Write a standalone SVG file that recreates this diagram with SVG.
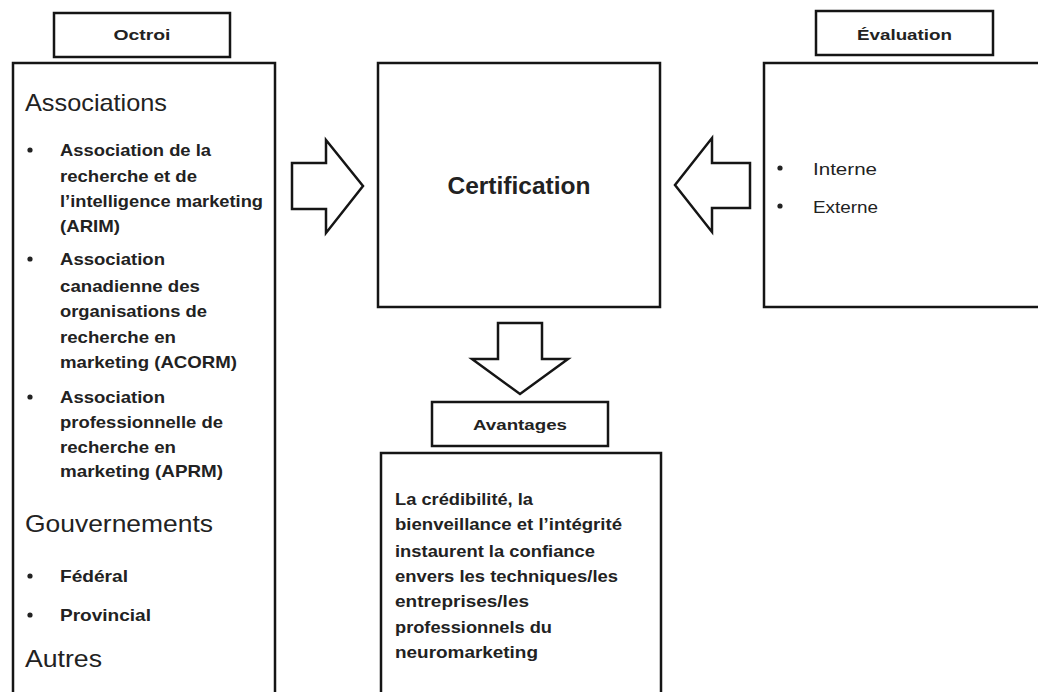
<svg xmlns="http://www.w3.org/2000/svg" width="1038" height="692" viewBox="0 0 1038 692">
  <style>
    .box{fill:#fff;stroke:#151515;stroke-width:2.5}
    .arrow{fill:#fff;stroke:#151515;stroke-width:2.5;stroke-linejoin:miter}
    text{font-family:"Liberation Sans",Arial,sans-serif;fill:#222}
    .lbl{font-size:15px;font-weight:bold;text-anchor:middle}
    .head{font-size:24px}
    .item{font-size:17px;font-weight:bold}
    .sub{font-size:16px}
    .dot{fill:#222}
  </style>
  <rect width="1038" height="692" fill="#fff"/>

  <!-- Octroi -->
  <g id="octroi-label">
    <rect class="box" x="54" y="13" width="176" height="44"/>
    <text class="lbl" x="142" y="40" textLength="57" lengthAdjust="spacingAndGlyphs">Octroi</text>
  </g>
  <g id="octroi">
    <rect class="box" x="13" y="63" width="262" height="660"/>
    <text class="head" x="25" y="111" textLength="142" lengthAdjust="spacingAndGlyphs">Associations</text>
    <circle class="dot" cx="30" cy="150" r="2.6"/>
    <text class="item" x="60" y="156" textLength="151" lengthAdjust="spacingAndGlyphs">Association de la</text>
    <text class="item" x="60" y="182" textLength="137" lengthAdjust="spacingAndGlyphs">recherche et de</text>
    <text class="item" x="60" y="207" textLength="203" lengthAdjust="spacingAndGlyphs">l’intelligence marketing</text>
    <text class="item" x="60" y="232" textLength="60" lengthAdjust="spacingAndGlyphs">(ARIM)</text>
    <circle class="dot" cx="30" cy="259" r="2.6"/>
    <text class="item" x="60" y="265" textLength="105" lengthAdjust="spacingAndGlyphs">Association</text>
    <text class="item" x="60" y="292" textLength="140" lengthAdjust="spacingAndGlyphs">canadienne des</text>
    <text class="item" x="60" y="317" textLength="147" lengthAdjust="spacingAndGlyphs">organisations de</text>
    <text class="item" x="60" y="343" textLength="116" lengthAdjust="spacingAndGlyphs">recherche en</text>
    <text class="item" x="60" y="368" textLength="177" lengthAdjust="spacingAndGlyphs">marketing (ACORM)</text>
    <circle class="dot" cx="30" cy="397" r="2.6"/>
    <text class="item" x="60" y="403" textLength="105" lengthAdjust="spacingAndGlyphs">Association</text>
    <text class="item" x="60" y="428" textLength="163" lengthAdjust="spacingAndGlyphs">professionnelle de</text>
    <text class="item" x="60" y="453" textLength="116" lengthAdjust="spacingAndGlyphs">recherche en</text>
    <text class="item" x="60" y="477" textLength="163" lengthAdjust="spacingAndGlyphs">marketing (APRM)</text>
    <text class="head" x="25" y="532" textLength="188" lengthAdjust="spacingAndGlyphs">Gouvernements</text>
    <circle class="dot" cx="30" cy="576" r="2.6"/>
    <text class="item" x="60" y="582" textLength="68" lengthAdjust="spacingAndGlyphs">Fédéral</text>
    <circle class="dot" cx="30" cy="615" r="2.6"/>
    <text class="item" x="60" y="621" textLength="91" lengthAdjust="spacingAndGlyphs">Provincial</text>
    <text class="head" x="25" y="667" textLength="77" lengthAdjust="spacingAndGlyphs">Autres</text>
  </g>

  <!-- Certification -->
  <g id="certification">
    <rect class="box" x="378" y="63" width="282" height="244"/>
    <text x="519" y="194" font-size="24" font-weight="bold" text-anchor="middle" textLength="143" lengthAdjust="spacingAndGlyphs">Certification</text>
  </g>

  <!-- Évaluation -->
  <g id="evaluation-label">
    <rect class="box" x="816" y="11" width="177" height="44"/>
    <text class="lbl" x="904.5" y="40" textLength="95" lengthAdjust="spacingAndGlyphs">Évaluation</text>
  </g>
  <g id="evaluation">
    <rect class="box" x="764" y="63" width="300" height="244"/>
    <circle class="dot" cx="780" cy="168" r="2.6"/>
    <text class="sub" x="813" y="175" textLength="64" lengthAdjust="spacingAndGlyphs">Interne</text>
    <circle class="dot" cx="780" cy="206" r="2.6"/>
    <text class="sub" x="813" y="213" textLength="65" lengthAdjust="spacingAndGlyphs">Externe</text>
  </g>

  <!-- Avantages -->
  <g id="avantages-label">
    <rect class="box" x="432" y="402" width="176" height="44"/>
    <text class="lbl" x="520" y="430" textLength="94" lengthAdjust="spacingAndGlyphs">Avantages</text>
  </g>
  <g id="avantages">
    <rect class="box" x="381" y="453" width="280" height="260"/>
    <text class="item" x="395" y="505" textLength="138" lengthAdjust="spacingAndGlyphs">La crédibilité, la</text>
    <text class="item" x="395" y="530" textLength="227" lengthAdjust="spacingAndGlyphs">bienveillance et l’intégrité</text>
    <text class="item" x="395" y="557" textLength="200" lengthAdjust="spacingAndGlyphs">instaurent la confiance</text>
    <text class="item" x="395" y="582" textLength="223" lengthAdjust="spacingAndGlyphs">envers les techniques/les</text>
    <text class="item" x="395" y="607" textLength="134" lengthAdjust="spacingAndGlyphs">entreprises/les</text>
    <text class="item" x="395" y="633" textLength="157" lengthAdjust="spacingAndGlyphs">professionnels du</text>
    <text class="item" x="395" y="658" textLength="143" lengthAdjust="spacingAndGlyphs">neuromarketing</text>
  </g>

  <!-- Block arrows -->
  <g id="connectors">
    <path class="arrow" d="M292,163 L326,163 L326,140 L363,186 L326,233 L326,209 L292,209 Z"/>
    <path class="arrow" d="M750,163 L712,163 L712,138 L675,185 L712,232 L712,208 L750,208 Z"/>
    <path class="arrow" d="M498,323 L542,323 L542,359 L568,359 L520,394 L472,359 L498,359 Z"/>
  </g>
</svg>
